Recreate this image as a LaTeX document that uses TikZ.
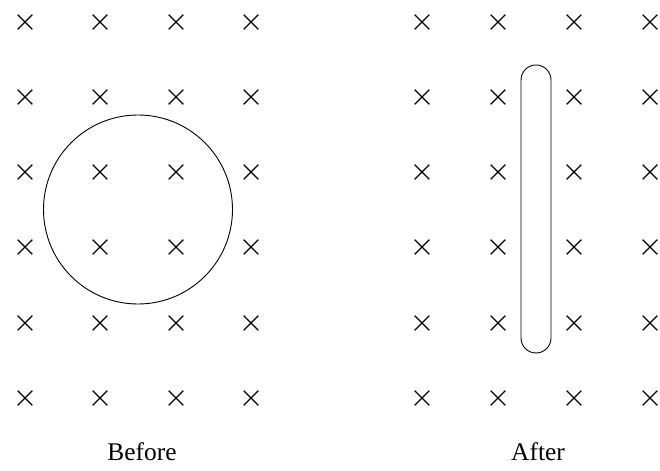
\documentclass[tikz,border=0pt]{standalone}
\usepackage{fontspec}
\setmainfont{Liberation Serif}
\usetikzlibrary{shapes.misc,positioning}

\begin{document}
\begin{tikzpicture}[
  x=1bp, y=-1bp,
  fieldx/.style={cross out, draw, line width=1.2bp, minimum size=13.5bp, inner sep=0pt},
  caption/.style={font=\fontsize{25.5}{28}\selectfont, inner sep=0pt}
]
\useasboundingbox (0,0) rectangle (660,471);

% field into the page, before and after
\foreach \i/\x in {1/25,2/100,3/176,4/251}
  \foreach \j/\y in {1/22,2/97,3/172,4/247,5/323,6/398}
    \node[fieldx] (b\i\j) at (\x,\y) {};
\foreach \i/\x in {1/422,2/498,3/574,4/650}
  \foreach \j/\y in {1/22,2/97,3/172,4/247,5/323,6/398}
    \node[fieldx] (a\i\j) at (\x,\y) {};

\node[circle, draw, line width=0.9bp, minimum size=189bp, inner sep=0pt] (loop) at (138,209.5) {};
\node[rectangle, draw, line width=0.9bp, rounded corners=15bp, minimum width=30bp, minimum height=288bp, inner sep=0pt] (flat) at (536,209) {};

\node[caption] (before) at (142,452) {Before};
\node[caption] (after) at (538,452) {After};

\end{tikzpicture}
\end{document}
